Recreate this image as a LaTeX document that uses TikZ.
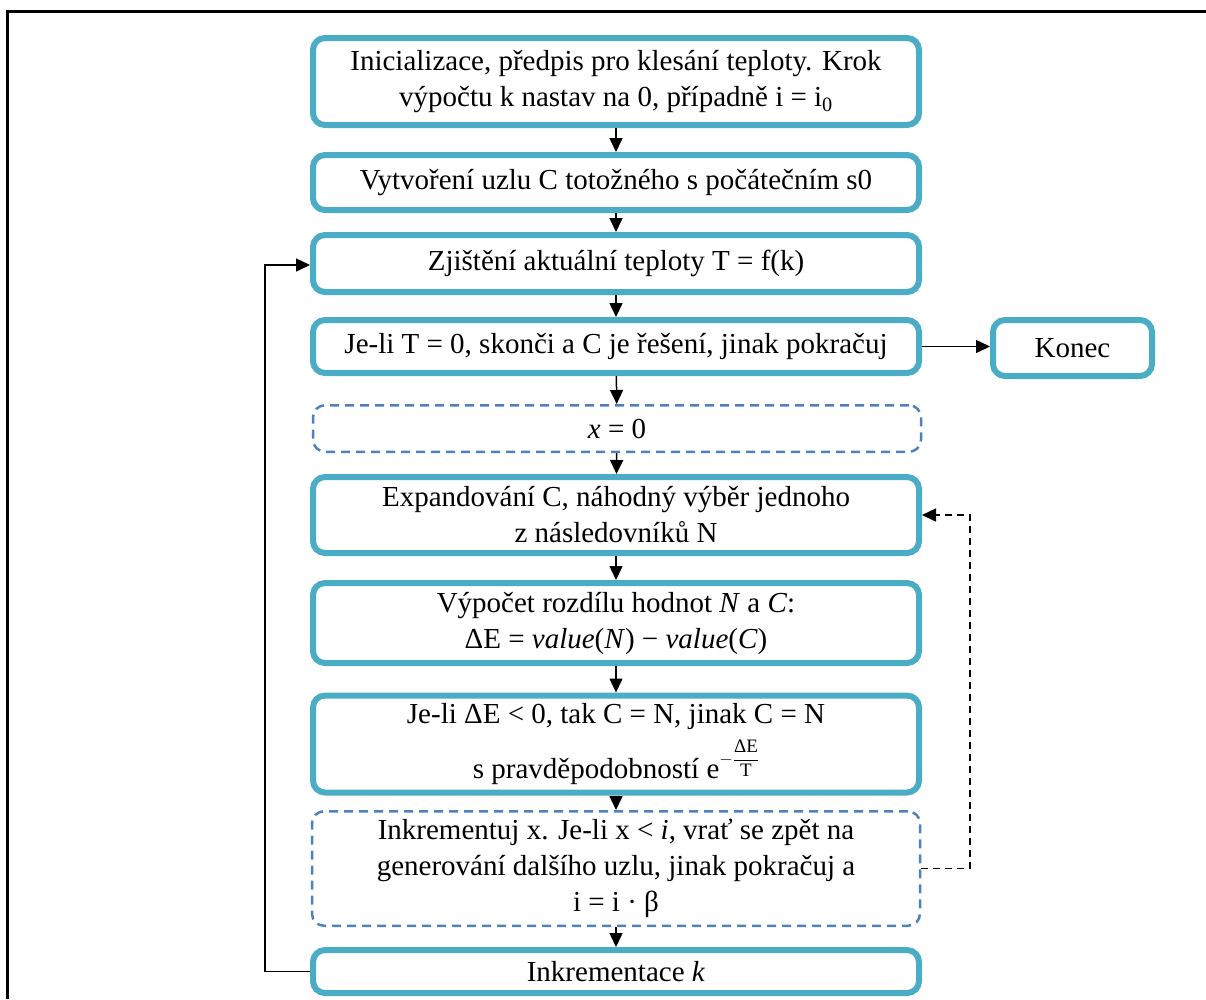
\documentclass[tikz,border=0pt]{standalone}
\usepackage{fontspec}
\usepackage{amsmath}
\setmainfont{Liberation Serif}
\usetikzlibrary{arrows.meta}
\definecolor{boxteal}{HTML}{4BACC6}
\definecolor{dashblue}{HTML}{4F81BD}
\begin{document}
\begin{tikzpicture}[x=1pt,y=-1pt,
  box/.style={draw=boxteal, line width=6pt, rounded corners=12pt, minimum width=606pt,
    align=center, font=\fontsize{29}{36}\selectfont, inner sep=0pt, outer sep=3pt},
  dbox/.style={draw=dashblue, line width=2.5pt, dash pattern=on 9pt off 6pt, rounded corners=12pt,
    minimum width=608pt, align=center, font=\fontsize{29}{36}\selectfont, inner sep=0pt, outer sep=1.25pt},
  arr/.style={-{Triangle[length=14pt,width=13pt]}, line width=1.5pt},
  darr/.style={-{Triangle[length=14pt,width=13pt]}, line width=1.5pt, dash pattern=on 7pt off 5pt}]
\useasboundingbox (0,0) rectangle (1206,999);
\draw[line width=3pt] (7,999) -- (7,11) -- (1206,11);

\node[box, minimum height=87pt] (b1) at (616,81.5) {Inicializace, předpis pro klesání teploty. Krok\\výpočtu k nastav na 0, případně i = i\textsubscript{0}};
\node[box, minimum height=55pt] (b2) at (616,182.5) {Vytvoření uzlu C totožného s počátečním s0};
\node[box, minimum height=57pt] (b3) at (616,263.5) {Zjištění aktuální teploty T = f(k)};
\node[box, minimum height=53pt] (b4) at (616,346.5) {Je-li T = 0, skonči a C je řešení, jinak pokračuj};
\node[box, minimum width=159pt, minimum height=56pt] (end) at (1072.5,348) {Konec};
\node[dbox, minimum height=46.5pt] (b5) at (617,428.5) {\textit{x} = 0};
\node[box, minimum height=76pt] (b6) at (616,515) {Expandování C, náhodný výběr jednoho\\z následovníků N};
\node[box, minimum height=80pt] (b7) at (616,623) {Výpočet rozdílu hodnot \textit{N} a \textit{C}:\\ΔE = \textit{value}(\textit{N}) − \textit{value}(\textit{C})};
\node[box, minimum height=97pt] (b8) at (616,744) {Je-li ΔE < 0, tak C = N, jinak C = N\\[9pt]s pravděpodobností e\raisebox{14pt}{\fontsize{19}{19}\selectfont$-\dfrac{\text{ΔE}}{\text{T}}$}};
\node[dbox, minimum height=114.5pt] (b9) at (616,868.5) {Inkrementuj x. Je-li x < \textit{i}, vrať se zpět na\\generování dalšího uzlu, jinak pokračuj a\\i = i · β};
\node[box, minimum height=43pt] (b10) at (616,971.5) {Inkrementace \textit{k}};

\draw[arr] (b1) -- (b2);
\draw[arr] (b2) -- (b3);
\draw[arr] (b3) -- (b4);
\draw[arr] (b4) -- (b5);
\draw[arr] (b5) -- (b6);
\draw[arr] (b6) -- (b7);
\draw[arr] (b7) -- (b8);
\draw[arr] (b8) -- (b9);
\draw[arr] (b9) -- (b10);
\draw[arr] (b4.east) -- (end.west |- b4.east);
\coordinate (l1) at (265,971.5);
\coordinate (l2) at (265,265);
\draw[arr] (b10.west) -- (l1) -- (l2) -- (b3.west |- l2);
\coordinate (r1) at (970,868.5);
\coordinate (r2) at (970,515);
\draw[darr] (b9.east) -- (r1) -- (r2) -- (b6.east);
\end{tikzpicture}
\end{document}
